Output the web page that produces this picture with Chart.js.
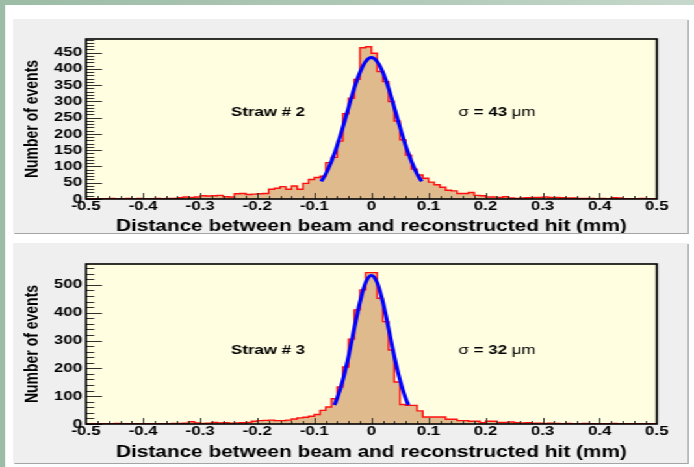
<!DOCTYPE html>
<html>
<head>
<meta charset="utf-8">
<script src="https://cdn.jsdelivr.net/npm/chart.js@4.4.0/dist/chart.umd.min.js"></script>
<style>
  html, body { margin: 0; padding: 0; }
  body {
    width: 694px; height: 467px; overflow: hidden; position: relative;
    background: linear-gradient(90deg, #9cbca6 0%, #b2cab9 60%, #c6d8cb 100%);
  }
  /* the source picture is stretched sideways, so the page is drawn narrow and widened */
  #page { position: absolute; left: 0; top: 0; width: 534px; height: 467px;
          transform: scaleX(1.2996); transform-origin: 0 0; }
  #sheet { position: absolute; left: 3.8px; top: 5px; right: 0; bottom: 0; background: #fff; }
  .panel { position: absolute; left: 10px; width: 519px; background: #efefef;
           box-shadow: 1px 1px 0 #a4a4a4; }
  .panel canvas { position: absolute; left: 0; top: 0; }
</style>
</head>
<body>
<div id="page">
  <div id="sheet"></div>
  <div class="panel" style="top:19px;height:214px"><canvas id="straw2" width="519" height="214"></canvas></div>
  <div class="panel" style="top:243px;height:220px"><canvas id="straw3" width="519" height="220"></canvas></div>
</div>
<script>
// binning of both histograms (mm)
const binLow = -0.5;
const binWidth = 0.01;

// Straw # 2, counts per bin from -0.50 to +0.50
const straw2Counts = [
  1, 1, 1, 1, 2, 1, 1, 2, 1, 2,            // -0.50 .. -0.41
  1, 1, 2, 1, 2, 2, 4, 6, 5, 6,            // -0.40 .. -0.31
  10, 9, 10, 11, 7, 6, 16, 17, 14, 15,     // -0.30 .. -0.21
  16, 17, 30, 33, 38, 30, 40, 30, 48, 60,  // -0.20 .. -0.11
  66, 70, 112, 128, 178, 262, 310, 368, 465, 468, // -0.10 .. -0.01
  448, 392, 361, 300, 240, 182, 135, 92, 74, 64,  // 0.00 .. 0.09
  52, 44, 36, 27, 25, 17, 17, 20, 11, 10,  // 0.10 .. 0.19
  6, 6, 5, 7, 3, 2, 3, 4, 5, 5,            // 0.20 .. 0.29
  6, 5, 5, 4, 3, 3, 2, 2, 2, 1,            // 0.30 .. 0.39
  2, 1, 4, 3, 1, 1, 1, 2, 1, 1             // 0.40 .. 0.49
];
// gaussian fit, sigma = 43 um
const straw2FitX = [-0.088, -0.08, -0.07, -0.06, -0.05, -0.04, -0.03, -0.02, -0.01, 0,
                    0.01, 0.02, 0.03, 0.04, 0.05, 0.06, 0.07, 0.08, 0.088];
const straw2FitY = [54, 77, 116, 164, 221, 282, 341, 390, 423, 435,
                    423, 390, 341, 282, 221, 164, 116, 77, 54];

// Straw # 3
const straw3Counts = [
  1, 1, 1, 1, 1, 2, 1, 1, 1, 1,            // -0.50 .. -0.41
  1, 1, 1, 1, 1, 2, 2, 3, 8, 4,            // -0.40 .. -0.31
  2, 3, 6, 4, 5, 3, 4, 5, 6, 10,           // -0.30 .. -0.21
  12, 13, 14, 12, 12, 14, 18, 22, 24, 28,  // -0.20 .. -0.11
  34, 49, 61, 91, 133, 205, 305, 410, 482, 544,   // -0.10 .. -0.01
  544, 452, 368, 266, 151, 70, 67, 67, 47, 25,    // 0.00 .. 0.09
  25, 25, 25, 17, 17, 12, 12, 10, 10, 5,   // 0.10 .. 0.19
  10, 10, 6, 6, 7, 5, 4, 5, 3, 3,          // 0.20 .. 0.29
  2, 3, 2, 1, 2, 1, 1, 2, 1, 1,            // 0.30 .. 0.39
  1, 1, 2, 1, 1, 1, 1, 1, 1, 1             // 0.40 .. 0.49
];
// gaussian fit, sigma = 32 um
const straw3FitX = [-0.065, -0.06, -0.05, -0.04, -0.03, -0.02, -0.01, 0,
                    0.01, 0.02, 0.03, 0.04, 0.05, 0.06, 0.065];
const straw3FitY = [68, 92, 158, 244, 344, 439, 509, 534,
                    509, 439, 344, 244, 158, 92, 68];

// tick labels
const xTicks = [-0.5, -0.4, -0.3, -0.2, -0.1, 0, 0.1, 0.2, 0.3, 0.4, 0.5];
const straw2YTicks = [0, 50, 100, 150, 200, 250, 300, 350, 400, 450];
const straw3YTicks = [0, 100, 200, 300, 400, 500];

const FONT = "'Liberation Sans', Arial, Helvetica, sans-serif";

// ROOT look: yellow pad, ticks inside the frame, labels in the pad
const rootPad = {
  id: 'rootPad',
  beforeDraw(chart) {
    const {ctx, chartArea: a} = chart;
    ctx.save();
    ctx.fillStyle = '#fffee0';
    ctx.fillRect(a.left, a.top, a.right - a.left, a.bottom - a.top);
    ctx.restore();
  },
  afterDatasetsDraw(chart, args, opts) {
    const {ctx, chartArea: a, scales: {x, y}} = chart;
    ctx.save();
    ctx.strokeStyle = '#303030';
    ctx.lineWidth = 1;
    ctx.beginPath();
    // x ticks: 5 sub divisions
    const xStep = (x.ticks[1].value - x.ticks[0].value) / 5;
    for (let i = 0; x.min + i * xStep <= x.max + 1e-9; i++) {
      const px = Math.round(x.getPixelForValue(x.min + i * xStep)) + 0.5;
      const len = i % 5 === 0 ? 6 : 3;
      ctx.moveTo(px, a.bottom);
      ctx.lineTo(px, a.bottom - len);
    }
    // y ticks
    const yStep = (y.ticks[1].value - y.ticks[0].value) / 5;
    for (let i = 0; y.min + i * yStep <= y.max + 1e-9; i++) {
      const py = Math.round(y.getPixelForValue(y.min + i * yStep)) + 0.5;
      const len = i % 5 === 0 ? 12.3 : 6.2;
      ctx.moveTo(a.left, py);
      ctx.lineTo(a.left + len, py);
    }
    ctx.stroke();

    // frame
    ctx.strokeStyle = '#000';
    ctx.lineWidth = 1.6;
    ctx.strokeRect(a.left, a.top, a.right - a.left, a.bottom - a.top);

    // labels
    ctx.fillStyle = '#000';
    ctx.textBaseline = 'middle';
    ctx.textAlign = 'center';
    ctx.font = 'bold 13px ' + FONT;
    ctx.fillText(opts.label, x.getPixelForValue(opts.labelAt[0]), y.getPixelForValue(opts.labelAt[1]));

    const parts = [['\u03c3', '13px '], [' = ' + opts.sigma + ' ', 'bold 13px '], ['\u03bcm', '13px ']];
    let w = 0;
    parts.forEach(p => { ctx.font = p[1] + FONT; w += ctx.measureText(p[0]).width; });
    let sx = x.getPixelForValue(opts.sigmaAt[0]) - w / 2;
    const sy = y.getPixelForValue(opts.sigmaAt[1]);
    ctx.textAlign = 'left';
    parts.forEach(p => {
      ctx.font = p[1] + FONT;
      ctx.fillText(p[0], sx, sy);
      sx += ctx.measureText(p[0]).width;
    });
    ctx.restore();
  }
};

function histPoints(counts) {
  const pts = counts.map((c, i) => ({x: binLow + i * binWidth, y: c}));
  pts.push({x: binLow + counts.length * binWidth, y: counts[counts.length - 1]});
  return pts;
}

function makeChart(id, counts, fitX, fitY, yTicks, yMax, lay, label, sigma) {
  const tickFont = {family: FONT, size: 13, weight: 'bold', lineHeight: 1.1};
  return new Chart(document.getElementById(id), {
    type: 'line',
    data: {
      datasets: [
        {
          data: fitX.map((v, i) => ({x: v, y: fitY[i]})),
          borderColor: '#0000ff',
          borderWidth: 3,
          pointRadius: 0,
          fill: false,
          cubicInterpolationMode: 'monotone',
          order: 0
        },
        {
          data: histPoints(counts),
          stepped: 'before',
          borderColor: '#ff1010',
          borderWidth: 1.4,
          backgroundColor: '#dfba8c',
          fill: 'origin',
          pointRadius: 0,
          order: 1
        }
      ]
    },
    options: {
      responsive: false,
      animation: false,
      events: [],
      layout: {padding: {left: 0, right: 23.6, top: lay.top, bottom: 0}},
      scales: {
        x: {
          type: 'linear',
          min: -0.5,
          max: 0.5,
          afterBuildTicks: s => { s.ticks = xTicks.map(v => ({value: v})); },
          afterFit: s => { s.height = lay.axisH; },
          grid: {display: false, drawTicks: false},
          border: {display: false},
          ticks: {
            font: tickFont, color: '#000', padding: 0,
            autoSkip: false, maxRotation: 0,
            callback: v => String(+v.toFixed(2))
          },
          title: {
            display: true,
            text: 'Distance between beam and reconstructed hit (mm)',
            color: '#000',
            font: {family: FONT, size: 16, weight: 'bold', lineHeight: 1},
            padding: {top: 0, bottom: lay.titlePad}
          }
        },
        y: {
          type: 'linear',
          min: 0,
          max: yMax,
          afterBuildTicks: s => { s.ticks = yTicks.map(v => ({value: v})); },
          afterFit: s => { s.width = 56.2; },
          grid: {display: false, drawTicks: false},
          border: {display: false},
          ticks: {font: tickFont, color: '#000', padding: 3, autoSkip: false},
          title: {
            display: true,
            text: 'Number of events',
            color: '#000',
            font: {family: FONT, size: 14, weight: 'bold', lineHeight: 1},
            padding: {top: 8.4, bottom: 0}
          }
        }
      },
      plugins: {
        legend: {display: false},
        tooltip: {enabled: false},
        rootPad: {label: label, labelAt: [-0.181, 265], sigma: sigma, sigmaAt: [0.22, 265]}
      }
    },
    plugins: [rootPad]
  });
}

makeChart('straw2', straw2Counts, straw2FitX, straw2FitY, straw2YTicks, 492,
          {top: 20, axisH: 34, titlePad: -1.5}, 'Straw # 2', '43');
makeChart('straw3', straw3Counts, straw3FitX, straw3FitY, straw3YTicks, 575,
          {top: 21, axisH: 39, titlePad: 2.5}, 'Straw # 3', '32');
</script>
</body>
</html>
